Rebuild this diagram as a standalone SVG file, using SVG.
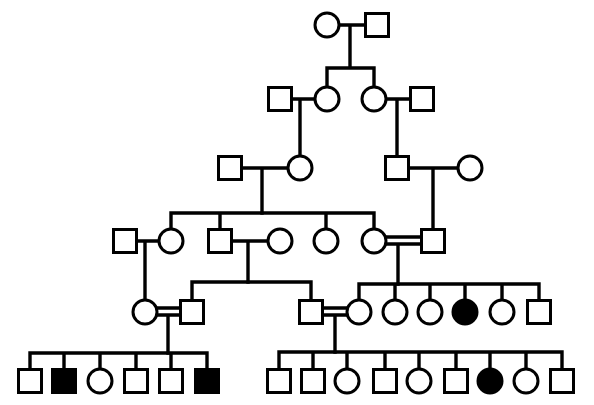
<svg xmlns="http://www.w3.org/2000/svg" width="594" height="405" viewBox="0 0 594 405">
<style>
.n{fill:#fff;stroke:#000;stroke-width:3}
.a{fill:#000;stroke:#000;stroke-width:3}
.c{fill:none;stroke:#000;stroke-width:3.4;stroke-linecap:square}
</style>
<defs>
<rect id="sq" x="-11.5" y="-11.5" width="23" height="23"/>
</defs>
<rect width="594" height="405" fill="#fff"/>
<g id="connectors" class="c">
<path d="M339 25H365M350 25V68M327 68H374M327 68V87M374 68V87"/>
<path d="M292 99H315M300 99V156M386 99H410M397 99V156"/>
<path d="M241 168H288M262 168V213M408 168H458M433 168V229"/>
<path d="M171 213H374M171 213V229M220 213V229M326 213V229M374 213V229"/>
<path d="M137 241H159M145 241V300M232 241H268M248 241V282"/>
<path d="M386 237H421M386 244H421M398 244V284"/>
<path d="M192 282H311M192 282V300M311 282V300"/>
<path d="M157 308H180M157 315H180M168 315V353M323 308H347M323 315H347M335 315V352"/>
<path d="M359 284H539M359 284V300M395 284V300M430 284V300M465 284V300M502 284V300M539 284V300"/>
<path d="M30 353H207M30 353V369M64 353V369M100 353V369M136 353V369M171 353V369M207 353V369"/>
<path d="M279 352H562M279 352V369M313 352V369M347 352V369M385 352V369M419 352V369M456 352V369M490 352V369M526 352V369M562 352V369"/>
</g>
<g id="I-1"><circle class="n" cx="327" cy="25" r="12"/></g>
<g id="I-2"><use href="#sq" class="n" x="377" y="25"/></g>
<g id="II-1"><use href="#sq" class="n" x="280" y="99"/></g>
<g id="II-2"><circle class="n" cx="327" cy="99" r="12"/></g>
<g id="II-3"><circle class="n" cx="374" cy="99" r="12"/></g>
<g id="II-4"><use href="#sq" class="n" x="422" y="99"/></g>
<g id="III-1"><use href="#sq" class="n" x="230" y="168"/></g>
<g id="III-2"><circle class="n" cx="300" cy="168" r="12"/></g>
<g id="III-3"><use href="#sq" class="n" x="397" y="168"/></g>
<g id="III-4"><circle class="n" cx="470" cy="168" r="12"/></g>
<g id="IV-1"><use href="#sq" class="n" x="125" y="241"/></g>
<g id="IV-2"><circle class="n" cx="171" cy="241" r="12"/></g>
<g id="IV-3"><use href="#sq" class="n" x="220" y="241"/></g>
<g id="IV-4"><circle class="n" cx="280" cy="241" r="12"/></g>
<g id="IV-5"><circle class="n" cx="326" cy="241" r="12"/></g>
<g id="IV-6"><circle class="n" cx="374" cy="241" r="12"/></g>
<g id="IV-7"><use href="#sq" class="n" x="433" y="241"/></g>
<g id="V-1"><circle class="n" cx="145" cy="312" r="12"/></g>
<g id="V-2"><use href="#sq" class="n" x="192" y="312"/></g>
<g id="V-3"><use href="#sq" class="n" x="311" y="312"/></g>
<g id="V-4"><circle class="n" cx="359" cy="312" r="12"/></g>
<g id="V-5"><circle class="n" cx="395" cy="312" r="12"/></g>
<g id="V-6"><circle class="n" cx="430" cy="312" r="12"/></g>
<g id="V-7"><circle class="a" cx="465" cy="312" r="12"/></g>
<g id="V-8"><circle class="n" cx="502" cy="312" r="12"/></g>
<g id="V-9"><use href="#sq" class="n" x="539" y="312"/></g>
<g id="VI-1"><use href="#sq" class="n" x="30" y="381"/></g>
<g id="VI-2"><use href="#sq" class="a" x="64" y="381"/></g>
<g id="VI-3"><circle class="n" cx="100" cy="381" r="12"/></g>
<g id="VI-4"><use href="#sq" class="n" x="136" y="381"/></g>
<g id="VI-5"><use href="#sq" class="n" x="171" y="381"/></g>
<g id="VI-6"><use href="#sq" class="a" x="207" y="381"/></g>
<g id="VI-7"><use href="#sq" class="n" x="279" y="381"/></g>
<g id="VI-8"><use href="#sq" class="n" x="313" y="381"/></g>
<g id="VI-9"><circle class="n" cx="347" cy="381" r="12"/></g>
<g id="VI-10"><use href="#sq" class="n" x="385" y="381"/></g>
<g id="VI-11"><circle class="n" cx="419" cy="381" r="12"/></g>
<g id="VI-12"><use href="#sq" class="n" x="456" y="381"/></g>
<g id="VI-13"><circle class="a" cx="490" cy="381" r="12"/></g>
<g id="VI-14"><circle class="n" cx="526" cy="381" r="12"/></g>
<g id="VI-15"><use href="#sq" class="n" x="562" y="381"/></g>
</svg>
